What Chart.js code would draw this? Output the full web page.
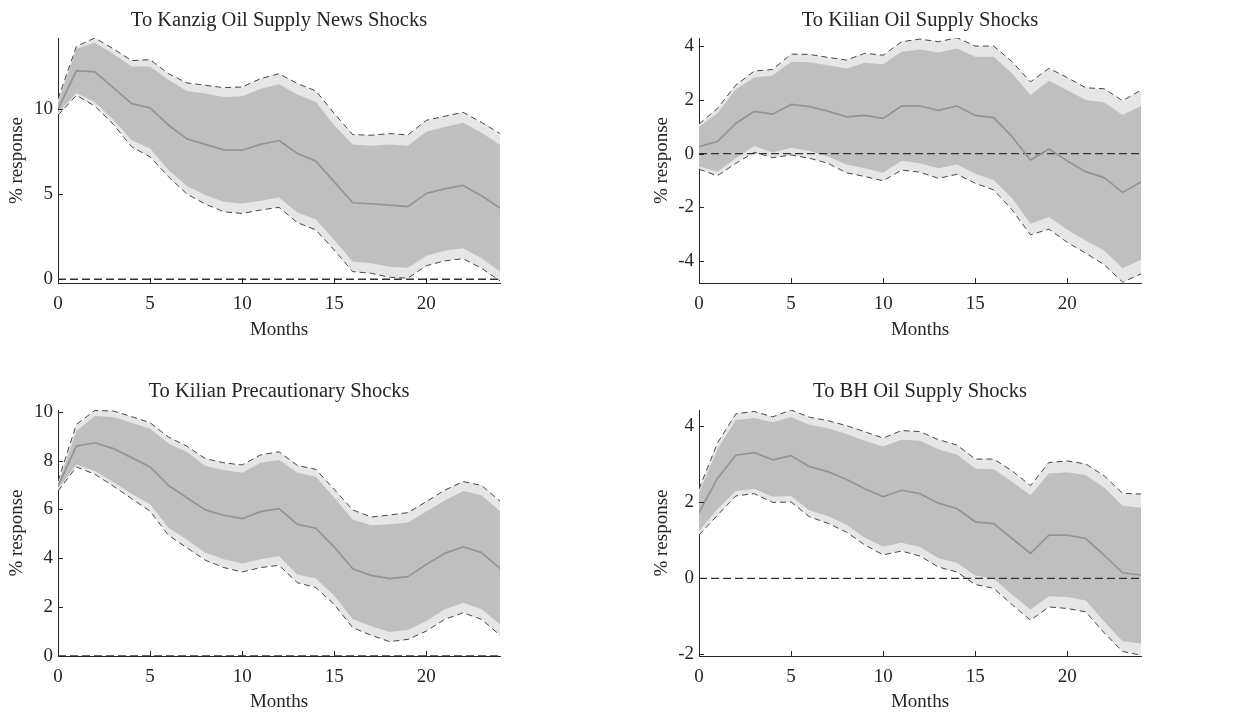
<!DOCTYPE html>
<html><head><meta charset="utf-8">
<script src="https://cdn.jsdelivr.net/npm/chart.js@4.4.1/dist/chart.umd.min.js"></script>
<style>
html,body{margin:0;padding:0;background:#fff;width:1238px;height:712px;overflow:hidden;position:relative}
canvas{position:absolute}
</style></head><body>
<canvas id="c1" width="558" height="356" style="left:0px;top:0px"></canvas>
<canvas id="c2" width="600" height="356" style="left:620px;top:0px"></canvas>
<canvas id="c3" width="558" height="356" style="left:0px;top:356px"></canvas>
<canvas id="c4" width="600" height="356" style="left:620px;top:356px"></canvas>
<script>
// ---------------- data ----------------
const months = [0,1,2,3,4,5,6,7,8,9,10,11,12,13,14,15,16,17,18,19,20,21,22,23,24];
const xTicks = [0,5,10,15,20];
const xLabel = "Months";
const yLabel = "% response";

// Panel 1: Kanzig oil supply news shocks
const kanzigTitle = "To Kanzig Oil Supply News Shocks";
const kanzigMedian  = [10.0,12.27,12.2,11.27,10.33,10.08,9.06,8.26,7.93,7.61,7.59,7.93,8.16,7.40,6.95,5.73,4.50,4.44,4.36,4.27,5.05,5.32,5.52,4.91,4.19];
const kanzigOuterUp = [10.6,13.7,14.19,13.56,12.86,12.92,12.09,11.55,11.41,11.27,11.31,11.8,12.09,11.51,11.08,9.75,8.51,8.47,8.57,8.49,9.35,9.59,9.82,9.22,8.57];
const kanzigInnerUp = [10.4,13.56,13.91,13.27,12.52,12.52,11.74,11.08,10.92,10.72,10.76,11.21,11.47,10.86,10.43,9.06,7.93,7.85,7.93,7.85,8.67,8.96,9.2,8.61,7.89];
const kanzigInnerLo = [9.8,10.96,10.43,9.39,8.18,7.69,6.42,5.48,4.95,4.56,4.46,4.62,4.81,3.93,3.52,2.31,1.04,0.94,0.74,0.68,1.39,1.68,1.82,1.23,0.45];
const kanzigOuterLo = [9.65,10.82,10.18,9.12,7.79,7.2,6.03,5.01,4.42,3.97,3.87,4.07,4.23,3.33,2.9,1.72,0.45,0.35,0.12,0.06,0.8,1.08,1.21,0.65,-0.1];
const kanzigYTicks = [0,5,10];
const kanzigYRange = [-0.22,14.19];

// Panel 2: Kilian oil supply shocks
const kilianTitle = "To Kilian Oil Supply Shocks";
const kilianMedian  = [0.26,0.45,1.13,1.57,1.47,1.83,1.75,1.58,1.37,1.42,1.31,1.77,1.77,1.61,1.77,1.42,1.34,0.63,-0.24,0.17,-0.27,-0.67,-0.89,-1.44,-1.05];
const kilianOuterUp = [1.1,1.68,2.55,3.07,3.13,3.7,3.69,3.58,3.48,3.73,3.66,4.16,4.26,4.16,4.31,4.0,4.0,3.42,2.67,3.17,2.83,2.45,2.41,1.97,2.36];
const kilianInnerUp = [1.0,1.5,2.39,2.83,2.91,3.42,3.4,3.29,3.17,3.38,3.32,3.79,3.87,3.76,3.91,3.6,3.6,2.98,2.18,2.71,2.36,1.99,1.91,1.44,1.77];
const kilianInnerLo = [-0.48,-0.67,-0.17,0.28,0.04,0.22,0.1,-0.11,-0.4,-0.54,-0.71,-0.26,-0.36,-0.54,-0.4,-0.75,-0.98,-1.66,-2.61,-2.36,-2.83,-3.23,-3.6,-4.26,-3.95];
const kilianOuterLo = [-0.58,-0.82,-0.36,0.05,-0.15,-0.05,-0.17,-0.36,-0.71,-0.85,-1.01,-0.61,-0.69,-0.92,-0.77,-1.1,-1.35,-2.09,-3.02,-2.81,-3.3,-3.7,-4.13,-4.78,-4.47];
const kilianYTicks = [-4,-2,0,2,4];
const kilianYRange = [-4.81,4.30];

// Panel 3: Kilian precautionary shocks
const precTitle = "To Kilian Precautionary Shocks";
const precMedian  = [6.96,8.59,8.73,8.49,8.12,7.74,6.98,6.48,5.98,5.76,5.62,5.91,6.03,5.39,5.23,4.46,3.57,3.3,3.17,3.25,3.75,4.2,4.47,4.23,3.59];
const precOuterUp = [7.16,9.48,10.05,10.03,9.8,9.55,8.96,8.59,8.08,7.91,7.82,8.23,8.36,7.8,7.64,6.82,5.98,5.69,5.77,5.87,6.32,6.79,7.14,6.98,6.34];
const precInnerUp = [7.03,9.21,9.82,9.78,9.55,9.3,8.7,8.35,7.78,7.61,7.5,7.91,8.02,7.5,7.34,6.48,5.59,5.35,5.39,5.46,5.91,6.37,6.75,6.58,5.93];
const precInnerLo = [6.85,7.84,7.57,7.12,6.64,6.21,5.25,4.77,4.23,3.96,3.79,3.96,4.09,3.34,3.17,2.48,1.5,1.23,0.98,1.06,1.43,1.91,2.18,1.91,1.3];
const precOuterLo = [6.75,7.74,7.44,6.96,6.44,5.93,4.94,4.43,3.92,3.62,3.44,3.62,3.71,3.0,2.8,2.11,1.16,0.85,0.59,0.68,1.02,1.5,1.77,1.5,0.85];
const precYTicks = [0,2,4,6,8,10];
const precYRange = [0,10.07];

// Panel 4: BH oil supply shocks
const bhTitle = "To BH Oil Supply Shocks";
const bhMedian  = [1.73,2.63,3.24,3.31,3.12,3.23,2.94,2.81,2.61,2.36,2.15,2.32,2.23,1.98,1.84,1.49,1.44,1.05,0.66,1.14,1.14,1.05,0.61,0.15,0.09];
const bhOuterUp = [2.35,3.56,4.33,4.39,4.25,4.43,4.24,4.15,4.02,3.86,3.69,3.89,3.86,3.65,3.51,3.14,3.14,2.83,2.44,3.05,3.09,3.01,2.7,2.24,2.22];
const bhInnerUp = [2.26,3.4,4.17,4.22,4.11,4.24,4.04,3.95,3.8,3.62,3.47,3.65,3.62,3.4,3.26,2.89,2.87,2.54,2.19,2.76,2.79,2.72,2.39,1.91,1.86];
const bhInnerLo = [1.25,1.82,2.3,2.36,2.15,2.17,1.79,1.64,1.41,1.07,0.84,0.94,0.83,0.53,0.41,0.08,-0.01,-0.42,-0.82,-0.47,-0.49,-0.58,-1.13,-1.65,-1.71];
const bhOuterLo = [1.14,1.66,2.17,2.23,2.0,2.01,1.62,1.45,1.22,0.88,0.62,0.72,0.59,0.3,0.17,-0.16,-0.26,-0.69,-1.1,-0.75,-0.79,-0.88,-1.43,-1.92,-2.02];
const bhYTicks = [-2,0,2,4];
const bhYRange = [-2.04,4.43];

// ---------------- styling / drawing ----------------
const TEXT = '#262626';
Chart.defaults.font.family = '"Liberation Serif", "Times New Roman", serif';
Chart.defaults.color = TEXT;

const inwardTicks = {
  id: 'inwardTicks',
  afterDraw(chart) {
    const {ctx, chartArea: a, scales: {x, y}} = chart;
    ctx.save();
    ctx.strokeStyle = TEXT; ctx.lineWidth = 1;
    ctx.beginPath();
    x.ticks.forEach(t => { const px = Math.round(x.getPixelForValue(t.value)) + 0.5; ctx.moveTo(px, a.bottom); ctx.lineTo(px, a.bottom - 5); });
    y.ticks.forEach(t => { const py = Math.round(y.getPixelForValue(t.value)) + 0.5; ctx.moveTo(a.left, py); ctx.lineTo(a.left + 5, py); });
    ctx.stroke();
    ctx.restore();
  }
};

function pts(arr) { return months.map((m, i) => ({x: m, y: arr[i]})); }

function makePanel(id, p) {
  const zero = months.map(m => ({x: m, y: 0}));
  const base = {pointRadius: 0, tension: 0, borderJoinStyle: 'round'};
  new Chart(document.getElementById(id), {
    type: 'line',
    data: {
      datasets: [
        {...base, data: pts(p.median), borderColor: '#939393', borderWidth: 1.7, fill: false},
        {...base, data: zero, borderColor: '#333333', borderWidth: 1.3, borderDash: [8, 4], fill: false},
        {...base, data: pts(p.outerUp), borderColor: '#333333', borderWidth: 0.9, borderDash: [6, 4], fill: false},
        {...base, data: pts(p.outerLo), borderColor: '#333333', borderWidth: 0.9, borderDash: [6, 4], fill: false},
        {...base, data: pts(p.innerUp), borderWidth: 0, borderColor: 'rgba(0,0,0,0)', backgroundColor: '#bfbfbf', fill: '+1'},
        {...base, data: pts(p.innerLo), borderWidth: 0, borderColor: 'rgba(0,0,0,0)', fill: false},
        {...base, data: pts(p.outerUp), borderWidth: 0, borderColor: 'rgba(0,0,0,0)', backgroundColor: '#e6e6e6', fill: '+1'},
        {...base, data: pts(p.outerLo), borderWidth: 0, borderColor: 'rgba(0,0,0,0)', fill: false}
      ]
    },
    options: {
      responsive: false, animation: false, devicePixelRatio: 1,
      events: [],
      layout: {padding: 0},
      plugins: {
        legend: {display: false}, tooltip: {enabled: false},
        title: {display: true, text: p.title, color: TEXT,
          font: {size: 20.5, weight: 'normal', lineHeight: 1.2},
          padding: {top: p.titleTop, bottom: p.titleBottom}}
      },
      scales: {
        x: {
          type: 'linear', min: 0, max: 24, z: 1,
          grid: {display: false, drawTicks: false},
          border: {display: true, color: TEXT, width: 1},
          ticks: {font: {size: 19}, padding: 10, autoSkip: false, maxRotation: 0},
          afterBuildTicks: s => { s.ticks = xTicks.map(v => ({value: v})); },
          afterFit: s => { s.height = p.xHeight; },
          title: {display: true, text: xLabel, color: TEXT, font: {size: 19, lineHeight: 1}, padding: {top: 0, bottom: p.xTitlePad}}
        },
        y: {
          type: 'linear', min: p.yRange[0], max: p.yRange[1], z: 1,
          grid: {display: false, drawTicks: false},
          border: {display: true, color: TEXT, width: 1},
          ticks: {font: {size: 19}, padding: 5, autoSkip: false},
          afterBuildTicks: s => { s.ticks = p.yTicks.map(v => ({value: v})); },
          afterFit: s => { s.width = p.yWidth; },
          title: {display: true, text: yLabel, color: TEXT, font: {size: 19, lineHeight: 1}, padding: {top: p.yTitlePad, bottom: 0}}
        },
        spacer: {
          type: 'linear', position: 'right', display: true,
          grid: {display: false, drawTicks: false},
          border: {display: false},
          ticks: {display: false},
          afterFit: s => { s.width = p.yWidth; }
        }
      }
    },
    plugins: [inwardTicks]
  });
}

makePanel('c1', {title: kanzigTitle, median: kanzigMedian, outerUp: kanzigOuterUp, innerUp: kanzigInnerUp, innerLo: kanzigInnerLo, outerLo: kanzigOuterLo,
  yTicks: kanzigYTicks, yRange: kanzigYRange, yWidth: 58, xHeight: 73, titleTop: 8.5, titleBottom: 4.9, xTitlePad: 16, yTitlePad: 8});
makePanel('c2', {title: kilianTitle, median: kilianMedian, outerUp: kilianOuterUp, innerUp: kilianInnerUp, innerLo: kilianInnerLo, outerLo: kilianOuterLo,
  yTicks: kilianYTicks, yRange: kilianYRange, yWidth: 79, xHeight: 73, titleTop: 8.5, titleBottom: 4.9, xTitlePad: 16, yTitlePad: 33});
makePanel('c3', {title: precTitle, median: precMedian, outerUp: precOuterUp, innerUp: precInnerUp, innerLo: precInnerLo, outerLo: precOuterLo,
  yTicks: precYTicks, yRange: precYRange, yWidth: 58, xHeight: 56, titleTop: 23.5, titleBottom: 5.9, xTitlePad: 0, yTitlePad: 8});
makePanel('c4', {title: bhTitle, median: bhMedian, outerUp: bhOuterUp, innerUp: bhInnerUp, innerLo: bhInnerLo, outerLo: bhOuterLo,
  yTicks: bhYTicks, yRange: bhYRange, yWidth: 79, xHeight: 56, titleTop: 23.5, titleBottom: 5.9, xTitlePad: 0, yTitlePad: 33});
</script>
</body></html>
